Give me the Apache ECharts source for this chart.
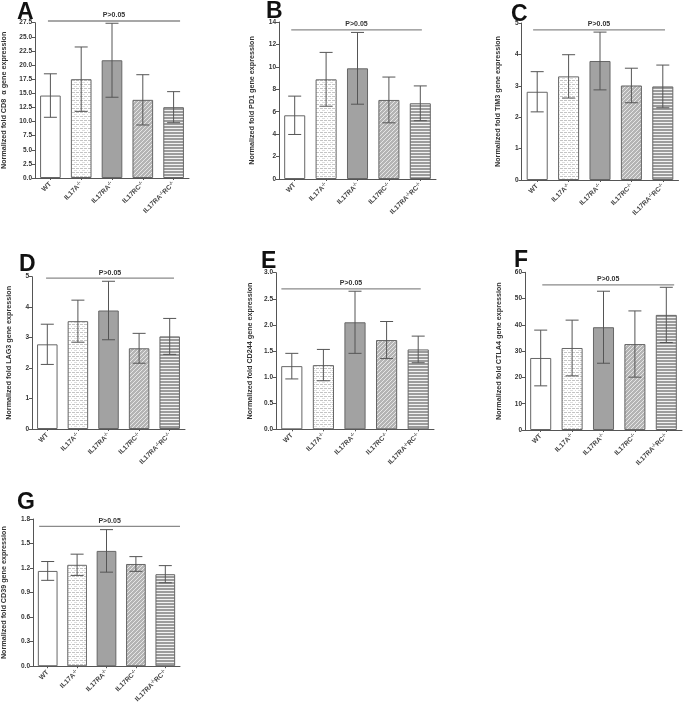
<!DOCTYPE html>
<html><head><meta charset="utf-8">
<script src="https://cdn.jsdelivr.net/npm/echarts@6/dist/echarts.min.js"></script>
<style>html,body{margin:0;padding:0;background:#fff}#c{width:683px;height:706px}</style>
</head><body><div id="c"></div>
<script>
// ---------------- data ----------------
const categories = ['WT', 'IL17A-/-', 'IL17RA-/-', 'IL17RC-/-', 'IL17RA-/-RC-/-'];
const panelLetters = ['A', 'B', 'C', 'D', 'E', 'F', 'G'];
const yTitles = [
  'Normalized fold CD8  \u03b1 gene expression',
  'Normalized fold PD1 gene expression',
  'Normalized fold TIM3 gene expression',
  'Normalized fold LAG3 gene expression',
  'Normalized fold CD244 gene expression',
  'Normalized fold CTLA4 gene expression',
  'Normalized fold CD39 gene expression'
];
const cd8Mean = [14.6, 17.5, 20.85, 13.84, 12.54];
const cd8Sd = [3.85, 5.7, 6.55, 4.45, 2.75];
const pd1Mean = [5.68, 8.89, 9.87, 7.05, 6.75];
const pd1Sd = [1.71, 2.4, 3.2, 2.04, 1.55];
const tim3Mean = [2.81, 3.30, 3.79, 3.01, 2.98];
const tim3Sd = [0.64, 0.69, 0.92, 0.55, 0.68];
const lag3Mean = [2.78, 3.54, 3.89, 2.65, 3.04];
const lag3Sd = [0.66, 0.69, 0.96, 0.49, 0.59];
const cd244Mean = [1.21, 1.23, 2.05, 1.71, 1.53];
const cd244Sd = [0.245, 0.30, 0.595, 0.355, 0.255];
const ctla4Mean = [27.4, 31.2, 39.1, 32.7, 43.8];
const ctla4Sd = [10.6, 10.6, 13.7, 12.6, 10.5];
const cd39Mean = [1.165, 1.24, 1.41, 1.25, 1.125];
const cd39Sd = [0.115, 0.13, 0.26, 0.09, 0.105];
const yMaxes = [27.5, 14, 5, 5, 3, 60, 1.8];
const yIntervals = [2.5, 2, 1, 1, 0.5, 10, 0.3];
const yDecimals = [1, 0, 0, 0, 1, 0, 1];
const pText = 'P>0.05';
const pLevels = [27.8, 13.3, 4.78, 4.95, 2.69, 55.2, 1.71];

const means = [cd8Mean, pd1Mean, tim3Mean, lag3Mean, cd244Mean, ctla4Mean, cd39Mean];
const sds = [cd8Sd, pd1Sd, tim3Sd, lag3Sd, cd244Sd, ctla4Sd, cd39Sd];

// ---------------- layout / style ----------------
const grids = [
  {left: 33, top: 22.7, width: 156, height: 155.3},
  {left: 279, top: 22, width: 157, height: 157},
  {left: 521.5, top: 23, width: 157, height: 157},
  {left: 32, top: 276.7, width: 153, height: 152.3},
  {left: 276, top: 272.7, width: 158, height: 156.6},
  {left: 525, top: 272.3, width: 157, height: 157.7},
  {left: 31.5, top: 519, width: 148.5, height: 148.3}
];
const nameGaps = [27, 23, 20, 19, 22, 22, 25];
const letterPos = [[17, 1], [266, 0], [511, 3], [19, 253], [261, 250], [514, 249], [17, 491]];
const pSpan = [[-0.08, 0.21], [-0.11, 0.05], [-0.13, 0.07], [-0.04, 0.14], [-0.33, 0.08], [0.05, 0.25], [-0.29, 0.5]];
const FONT = 'Liberation Sans, Arial, sans-serif';

function makePattern(w, h, draw) {
  const c = document.createElement('canvas');
  c.width = w; c.height = h;
  const g = c.getContext('2d');
  draw(g);
  return {image: c, repeat: 'repeat'};
}
const patWT = '#ffffff';
const patA = makePattern(8, 4, g => {
  g.fillStyle = '#ffffff'; g.fillRect(0, 0, 8, 4);
  g.fillStyle = '#c4c4c4';
  g.fillRect(0, 0, 3, 1); g.fillRect(4, 0, 3, 1);
  g.fillStyle = '#dedede';
  g.fillRect(2, 2, 3, 1); g.fillRect(7, 2, 1, 1);
});
const patRA = '#a2a2a2';
const patRC = makePattern(4, 4, g => {
  g.fillStyle = '#b4b4b4'; g.fillRect(0, 0, 4, 4);
  g.fillStyle = '#e6e6e6';
  for (let i = 0; i < 4; i++) g.fillRect(3 - i, i, 1, 1);
});
const patRARC = makePattern(1, 3, g => {
  g.fillStyle = '#9c9c9c'; g.fillRect(0, 0, 1, 2);
  g.fillStyle = '#f2f2f2'; g.fillRect(0, 2, 1, 1);
});
const fills = [patWT, patA, patRA, patRC, patRARC];

function labelFmt(v) {
  const parts = v.split('-/-');
  let s = '';
  for (let i = 0; i < parts.length; i++) {
    if (parts[i]) s += '{b|' + parts[i] + '}';
    if (i < parts.length - 1) s += '{s|-/-}';
  }
  return s;
}

const option = {
  animation: false,
  backgroundColor: '#fff',
  title: [], grid: [], xAxis: [], yAxis: [], series: []
};

for (let p = 0; p < 7; p++) {
  option.title.push({
    text: panelLetters[p], left: letterPos[p][0], top: letterPos[p][1], padding: 0,
    textStyle: {fontFamily: FONT, fontSize: 23, fontWeight: 'bold', color: '#111'}
  });
  option.grid.push(Object.assign({containLabel: false}, grids[p]));
  option.xAxis.push({
    type: 'category', gridIndex: p, data: categories,
    axisLine: {lineStyle: {color: '#555', width: 1}},
    axisTick: {show: true, alignWithLabel: true, length: 2, lineStyle: {color: '#555'}},
    axisLabel: {
      rotate: 45, interval: 0, margin: 5, formatter: labelFmt,
      rich: {
        b: {fontFamily: FONT, fontSize: 6.7, fontWeight: 'bold', color: '#444'},
        s: {fontFamily: FONT, fontSize: 4.5, fontWeight: 'bold', color: '#444', verticalAlign: 'top', lineHeight: 8, padding: [0, 0, 4, 0]}
      }
    }
  });
  const dec = yDecimals[p];
  option.yAxis.push({
    type: 'value', gridIndex: p, min: 0, max: yMaxes[p], interval: yIntervals[p],
    name: yTitles[p], nameLocation: 'middle', nameGap: nameGaps[p],
    nameTextStyle: {fontFamily: FONT, fontSize: 7.2, fontWeight: 'bold', color: '#333'},
    axisLine: {show: true, lineStyle: {color: '#555', width: 1}},
    axisTick: {show: true, length: 3, lineStyle: {color: '#555'}},
    splitLine: {show: false},
    axisLabel: {fontFamily: FONT, fontSize: 6.5, fontWeight: 'bold', color: '#333', margin: 3,
      formatter: v => v.toFixed(dec)}
  });
  option.series.push({
    type: 'bar', xAxisIndex: p, yAxisIndex: p, barWidth: '67%',
    data: means[p].map((v, i) => ({value: v, itemStyle: {color: fills[i], borderColor: '#666', borderWidth: 1}}))
  });
  option.series.push({
    type: 'custom', xAxisIndex: p, yAxisIndex: p, z: 5,
    data: means[p].map((v, i) => [i, v, sds[p][i]]),
    encode: {x: 0, y: 1},
    renderItem: (params, api) => {
      const i = api.value(0), m = api.value(1), s = api.value(2);
      const hi = api.coord([i, m + s]), lo = api.coord([i, m - s]);
      const half = 6.5;
      const st = {stroke: '#555', lineWidth: 1};
      return {type: 'group', children: [
        {type: 'line', shape: {x1: hi[0], y1: hi[1], x2: lo[0], y2: lo[1]}, style: st},
        {type: 'line', shape: {x1: hi[0] - half, y1: hi[1], x2: hi[0] + half, y2: hi[1]}, style: st},
        {type: 'line', shape: {x1: lo[0] - half, y1: lo[1], x2: lo[0] + half, y2: lo[1]}, style: st}
      ]};
    }
  });
  const span = pSpan[p];
  option.series.push({
    type: 'custom', xAxisIndex: p, yAxisIndex: p, z: 6, clip: false,
    data: [[0, pLevels[p]]],
    encode: {x: 0, y: 1},
    renderItem: (params, api) => {
      const y = api.value(1);
      const a = api.coord([0, y]), b = api.coord([categories.length - 1, y]);
      const band = api.size([1, 0])[0];
      const x0 = a[0] + span[0] * band, x1 = b[0] + span[1] * band;
      return {type: 'group', children: [
        {type: 'line', shape: {x1: x0, y1: a[1], x2: x1, y2: a[1]}, style: {stroke: '#8a8a8a', lineWidth: 1.3}},
        {type: 'text', x: (x0 + x1) / 2, y: a[1] - 2,
          style: {text: pText, fill: '#333', font: 'bold 7px ' + FONT, textAlign: 'center', textVerticalAlign: 'bottom'}}
      ]};
    }
  });
}

const chart = echarts.init(document.getElementById('c'), null, {renderer: 'canvas'});
chart.setOption(option);
</script>
</body></html>
